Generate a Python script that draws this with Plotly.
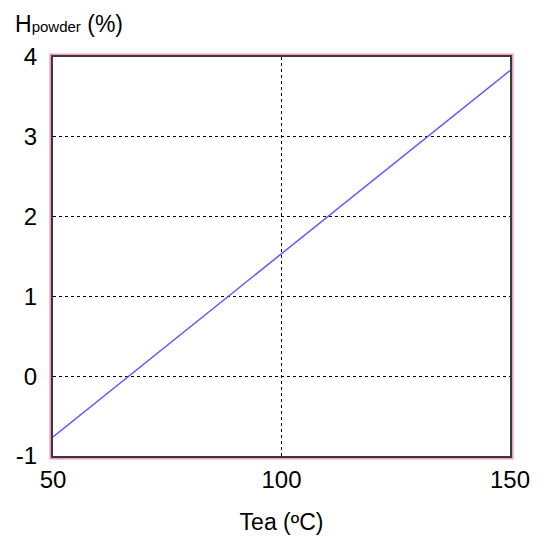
import plotly.graph_objects as go

# Data
tea_c = [50, 100, 150]
h_powder = [-0.76, 1.53, 3.83]
x_ticks = [50, 100, 150]
y_ticks = [-1, 0, 1, 2, 3, 4]
y_ticktext = ["-1", "0", "1", "2", "3", "4"]

W, H = 541, 542
ML, MR, MT, MB = 53, 31, 57, 86
pw = W - ML - MR
ph = H - MT - MB

fig = go.Figure()
fig.add_trace(go.Scatter(x=tea_c, y=h_powder, mode="lines",
                         line=dict(color="#5b5bff", width=1.5),
                         showlegend=False, hoverinfo="skip"))

font = "Liberation Sans, Arial, sans-serif"
axis_common = dict(
    showline=True, linecolor="#3a3a3a", linewidth=2, mirror=True,
    showgrid=True, gridcolor="black", gridwidth=1, griddash="3px,3px",
    zeroline=False, ticks="", tickfont=dict(family=font, size=24, color="black"),
)
fig.update_xaxes(range=[50, 150], tickvals=x_ticks, ticklabelstandoff=1,
                 title=dict(text="Tea (ºC)", font=dict(family=font, size=23, color="black"), standoff=22),
                 **axis_common)
fig.update_yaxes(range=[-1, 4], tickvals=y_ticks, ticktext=y_ticktext,
                 ticklabelstandoff=9, **axis_common)

# pink outline outside the plot frame
dx = 2.6 / pw
dy = 2.6 / ph
fig.add_shape(type="rect", xref="paper", yref="paper",
              x0=-dx, x1=1 + dx, y0=-dy, y1=1 + dy,
              line=dict(color="#f598c8", width=2), layer="below")

fig.add_annotation(xref="paper", yref="paper", x=0, y=1, xanchor="left", yanchor="bottom",
                   xshift=-40, yshift=18, showarrow=False,
                   text="H<span style='font-size:15px'>powder</span> (%)",
                   font=dict(family=font, size=23, color="black"))

fig.update_layout(width=W, height=H, margin=dict(l=ML, r=MR, t=MT, b=MB),
                  paper_bgcolor="white", plot_bgcolor="white")
fig.write_html("out.html")
